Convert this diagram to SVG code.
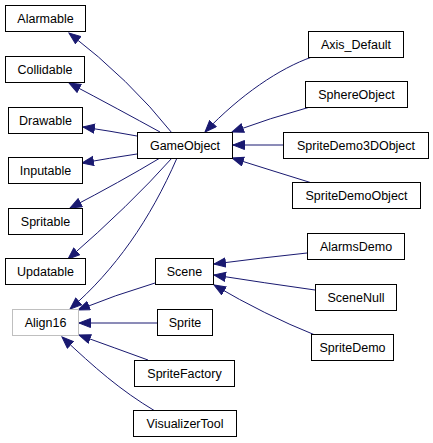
<svg xmlns="http://www.w3.org/2000/svg" width="433" height="443" viewBox="0 0 433 443">
<style>
.n rect{fill:#fff;stroke:#000;stroke-width:1}
.n.g rect{stroke:#bfbfbf}
.n text{font-family:"Liberation Sans",Arial,sans-serif;font-size:12.5px;text-anchor:middle;fill:#000}
.e path{fill:none;stroke:#191970;stroke-width:1;marker-end:url(#ah)}
</style>
<defs>
<marker id="ah" markerUnits="userSpaceOnUse" markerWidth="14" markerHeight="11" refX="12" refY="5" orient="auto">
<path d="M0.5,0.5 L12,5 L0.5,9.5 z" fill="#191970" stroke="#191970" stroke-width="1"/>
</marker>
</defs>
<rect width="433" height="443" fill="#fff"/>
<g id="edges" class="e">
<path d="M172,133 Q130,80 69,33"/>
<path d="M160,132 Q120,110 69,83"/>
<path d="M137,136 Q110,131 83,127"/>
<path d="M137,154 Q110,158 82,163"/>
<path d="M160,158 Q120,182 70,208"/>
<path d="M172,158 Q130,205 68,259"/>
<path d="M177,158 C150,220 115,270 70,309"/>
<path d="M155,283 Q115,295 78,310"/>
<path d="M157,323 L79,323"/>
<path d="M148,360 Q115,348 79,335"/>
<path d="M155,411 C120,390 95,368 62,337"/>
<path d="M312,57 C280,68 240,95 205,132"/>
<path d="M310,107 Q270,118 232,132"/>
<path d="M283,145 L233,145"/>
<path d="M312,183 Q270,170 232,158"/>
<path d="M307,253 Q260,258 214,264"/>
<path d="M315,290 Q265,283 214,275"/>
<path d="M315,335 Q265,315 214,285"/>
</g>
<g id="Alarmable" class="n"><rect x="5.5" y="5.5" width="80" height="26"/><text x="45.5" y="22.5">Alarmable</text></g>
<g id="Collidable" class="n"><rect x="5.5" y="56.5" width="79" height="26"/><text x="45" y="73.5">Collidable</text></g>
<g id="Drawable" class="n"><rect x="8.5" y="107.5" width="74" height="26"/><text x="45.5" y="124.5">Drawable</text></g>
<g id="Inputable" class="n"><rect x="8.5" y="157.5" width="74" height="26"/><text x="45.5" y="174.5">Inputable</text></g>
<g id="Spritable" class="n"><rect x="8.5" y="208.5" width="74" height="26"/><text x="45.5" y="225.5">Spritable</text></g>
<g id="Updatable" class="n"><rect x="5.5" y="258.5" width="80" height="26"/><text x="45.5" y="275.5">Updatable</text></g>
<g id="Align16" class="n g"><rect x="12.5" y="309.5" width="66" height="26"/><text x="45.5" y="326.5">Align16</text></g>
<g id="GameObject" class="n"><rect x="137.5" y="132.5" width="95" height="26"/><text x="185" y="149.5">GameObject</text></g>
<g id="Scene" class="n"><rect x="155.5" y="258.5" width="58" height="26"/><text x="184.5" y="275.5">Scene</text></g>
<g id="Sprite" class="n"><rect x="157.5" y="309.5" width="55" height="26"/><text x="185" y="326.5">Sprite</text></g>
<g id="SpriteFactory" class="n"><rect x="134.5" y="360.5" width="100" height="26"/><text x="184.5" y="377.5">SpriteFactory</text></g>
<g id="VisualizerTool" class="n"><rect x="133.5" y="410.5" width="103" height="26"/><text x="185" y="427.5">VisualizerTool</text></g>
<g id="Axis_Default" class="n"><rect x="308.5" y="31.5" width="95" height="26"/><text x="356" y="48.5">Axis_Default</text></g>
<g id="SphereObject" class="n"><rect x="305.5" y="81.5" width="102" height="26"/><text x="356.5" y="98.5">SphereObject</text></g>
<g id="SpriteDemo3DObject" class="n"><rect x="283.5" y="132.5" width="145" height="26"/><text x="356" y="149.5">SpriteDemo3DObject</text></g>
<g id="SpriteDemoObject" class="n"><rect x="292.5" y="182.5" width="128" height="26"/><text x="356.5" y="199.5">SpriteDemoObject</text></g>
<g id="AlarmsDemo" class="n"><rect x="307.5" y="233.5" width="97" height="26"/><text x="356" y="250.5">AlarmsDemo</text></g>
<g id="SceneNull" class="n"><rect x="315.5" y="284.5" width="81" height="26"/><text x="356" y="301.5">SceneNull</text></g>
<g id="SpriteDemo" class="n"><rect x="311.5" y="334.5" width="82" height="26"/><text x="352.5" y="351.5">SpriteDemo</text></g>
</svg>
